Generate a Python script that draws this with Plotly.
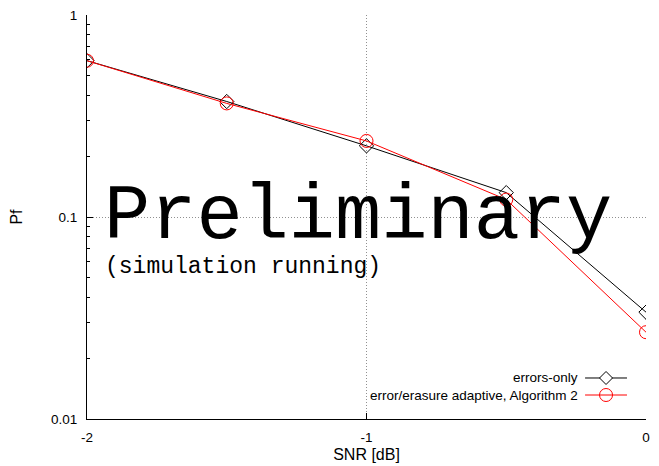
import plotly.graph_objects as go

snr = [-2, -1.5, -1, -0.5, 0]
pf_errors_only = [0.594, 0.373, 0.225, 0.132, 0.0338]
pf_erasure_adaptive = [0.594, 0.365, 0.238, 0.122, 0.0269]
series_names = ["errors-only", "error/erasure adaptive, Algorithm 2"]
x_ticks = [-2, -1, 0]
y_ticks = [0.01, 0.1, 1]
y_tick_labels = ["0.01", "0.1", "1"]
y_minor = [m * d for d in (0.01, 0.1) for m in range(2, 10)]

fig = go.Figure()
fig.add_trace(go.Scatter(
    x=snr, y=pf_errors_only, mode="lines+markers", name=series_names[0],
    line=dict(color="black", width=1),
    marker=dict(symbol="diamond-open", size=11, color="black", line=dict(width=1)),
    showlegend=False))
fig.add_trace(go.Scatter(
    x=snr, y=pf_erasure_adaptive, mode="lines+markers", name=series_names[1],
    line=dict(color="red", width=1),
    marker=dict(symbol="circle-open", size=13, color="red", line=dict(width=1)),
    showlegend=False))

font = dict(family="Liberation Sans, Arial, sans-serif", size=13.5, color="black")
grid = dict(showgrid=True, gridcolor="#909090", griddash="1px,2px", gridwidth=1)

fig.update_layout(
    width=659, height=466,
    margin=dict(l=87, r=13, t=15, b=47, autoexpand=False),
    paper_bgcolor="white", plot_bgcolor="white",
    font=font,
    xaxis=dict(
        range=[-2, 0], tickvals=x_ticks, ticktext=[str(v) for v in x_ticks],
        showline=True, linecolor="black", linewidth=1,
        ticks="inside", ticklen=6, tickcolor="black", ticklabelstandoff=6,
        zeroline=False, automargin=False,
        title=dict(text="SNR [dB]", standoff=4),
        **grid,
    ),
    yaxis=dict(
        type="log", range=[-2, 0], tickvals=y_ticks, ticktext=y_tick_labels,
        showline=True, linecolor="black", linewidth=1,
        ticks="inside", ticklen=6, tickcolor="black", ticklabelstandoff=6,
        zeroline=False, automargin=False,
        minor=dict(tickvals=y_minor, ticks="inside", ticklen=3, tickcolor="black", showgrid=False),
        title=dict(text="Pf", standoff=24),
        **grid,
    ),
)

# Watermark text
fig.add_annotation(text="Preliminary", xref="paper", yref="paper", x=0.026, y=0.50,
                   xanchor="left", yanchor="middle", showarrow=False,
                   font=dict(family="Liberation Mono, Courier New, monospace", size=77, color="black"))
fig.add_annotation(text="(simulation running)", xref="paper", yref="paper", x=0.028, y=0.376,
                   xanchor="left", yanchor="middle", showarrow=False,
                   font=dict(family="Liberation Mono, Courier New, monospace", size=23, color="black"))

# gnuplot-style legend (text right-aligned, key sample to the right)
legend_rows = [(0.1015, "black", "diamond"), (0.0594, "red", "circle")]
for (ly, col, sym), name in zip(legend_rows, series_names):
    fig.add_annotation(text=name, xref="paper", yref="paper", x=0.882, y=ly,
                       xanchor="right", yanchor="middle", showarrow=False, font=font)
    fig.add_shape(type="line", xref="paper", yref="paper", x0=0.891, x1=0.966, y0=ly, y1=ly,
                  line=dict(color=col, width=1))
    cx = 0.9285
    rx, ry = 6.5 / 559, 6.5 / 404
    if sym == "circle":
        fig.add_shape(type="circle", xref="paper", yref="paper",
                      x0=cx - rx, x1=cx + rx, y0=ly - ry, y1=ly + ry,
                      line=dict(color=col, width=1), fillcolor="rgba(0,0,0,0)")
    else:
        fig.add_shape(type="path", xref="paper", yref="paper",
                      path=f"M {cx - rx} {ly} L {cx} {ly + ry} L {cx + rx} {ly} L {cx} {ly - ry} Z",
                      line=dict(color=col, width=1), fillcolor="white")

fig.write_html("out.html", config={"displayModeBar": False},
               post_script="document.body.style.margin='0';document.body.style.overflow='hidden';")
